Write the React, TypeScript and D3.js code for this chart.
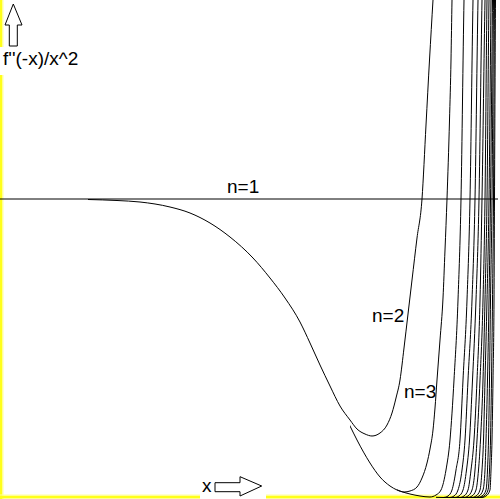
import React from 'react';
import * as d3 from 'd3';

// ---- data (x in abstract units 0..10, y in abstract units; n=1 is the level y=0) ----
const n1X = [0, 9.96];
const n1Y = [0, 0];

// shared descending branch followed by all curves n>=2
const envX = [1.76, 2.34, 2.8, 3.4, 3.8, 4.2, 4.6, 5.06, 5.4, 5.7, 6.0, 6.2, 6.4, 6.6, 6.8, 7.0, 7.14, 7.4, 7.6, 7.8, 8.0, 8.2, 8.4, 8.6];
const envY = [-0.005, -0.015, -0.03, -0.08, -0.14, -0.24, -0.38, -0.59, -0.79, -0.99, -1.23, -1.44, -1.66, -1.87, -2.07, -2.27, -2.41, -2.64, -2.78, -2.87, -2.92, -2.95, -2.97, -2.98];

const n2X = [7.0, 7.14, 7.3, 7.44, 7.6, 7.74, 7.84, 7.92, 8.0, 8.08, 8.16, 8.24, 8.34, 8.44, 8.52, 8.59, 8.66, 8.72];
const n2Y = [-2.21, -2.3, -2.35, -2.37, -2.34, -2.26, -2.14, -1.99, -1.81, -1.49, -1.15, -0.81, -0.39, 0, 0.74, 1.39, 1.99, 2.49];

const n3X = [7.94, 8.08, 8.2, 8.34, 8.44, 8.54, 8.6, 8.66, 8.7, 8.74, 8.8, 8.86, 8.9, 8.94, 8.99, 9.02, 9.04, 9.06];
const n3Y = [-2.91, -2.93, -2.92, -2.88, -2.79, -2.64, -2.5, -2.31, -2.09, -1.81, -1.41, -0.99, -0.51, 0, 0.79, 1.39, 1.99, 2.49];

const n4X = [8.72, 8.82, 8.92, 9.0, 9.08, 9.16, 9.22, 9.28, 9.3];
const n4Y = [-2.96, -2.91, -2.71, -2.41, -1.81, -1.01, 0, 1.99, 2.49];

// higher orders: x read at these levels
const riseY = [-2.985, -2.97, -2.91, -2.71, -2.41, -1.81, -1.01, 0, 1.99, 2.49];
const n5X = [8.88, 8.96, 9.04, 9.12, 9.2, 9.26, 9.34, 9.4, 9.46, 9.48];
const n6X = [9.0, 9.08, 9.16, 9.24, 9.3, 9.36, 9.44, 9.5, 9.56, 9.58];
const n7X = [9.1, 9.18, 9.26, 9.33, 9.39, 9.45, 9.52, 9.58, 9.64, 9.66];
const n8X = [9.2, 9.28, 9.36, 9.42, 9.48, 9.54, 9.6, 9.64, 9.7, 9.72];
const n9X = [9.28, 9.36, 9.44, 9.5, 9.54, 9.6, 9.66, 9.7, 9.74, 9.76];
const n10X = [9.36, 9.44, 9.52, 9.57, 9.61, 9.66, 9.7, 9.74, 9.78, 9.8];
const n11X = [9.44, 9.52, 9.6, 9.64, 9.67, 9.7, 9.74, 9.78, 9.82, 9.83];
const n12X = [9.5, 9.58, 9.66, 9.7, 9.72, 9.75, 9.78, 9.81, 9.85, 9.86];
const n13X = [9.56, 9.64, 9.72, 9.75, 9.77, 9.79, 9.81, 9.84, 9.87, 9.88];
const n14X = [9.6, 9.68, 9.76, 9.79, 9.81, 9.83, 9.85, 9.87, 9.89, 9.9];
const n15X = [9.64, 9.72, 9.8, 9.82, 9.84, 9.86, 9.88, 9.89, 9.91, 9.92];

const curveLabels = ['n=1', 'n=2', 'n=3'];
const yAxisLabel = "f''(-x)/x^2";
const xAxisLabel = 'x';

const W = 500;
const H = 499;
const xScale = d3.scaleLinear().domain([0, 10]).range([0, 500]);
const yScale = d3.scaleLinear().domain([-3, 2]).range([499, -1]);

type P = [number, number];
const zip = (xs: number[], ys: number[]): P[] => xs.map((x, i) => [x, ys[i]] as P);

const withEnvelope = (tail: P[]): P[] => {
  const start = tail[0][0];
  const env = zip(envX, envY).filter((p) => p[0] < start);
  return env.concat(tail);
};

const tails: P[][] = [
  zip(n2X, n2Y),
  zip(n3X, n3Y),
  zip(n4X, n4Y),
  ...[n5X, n6X, n7X, n8X, n9X, n10X, n11X, n12X, n13X, n14X, n15X].map((xs) => zip(xs, riseY)),
];
const series: P[][] = tails.map(withEnvelope);

const line = d3
  .line<P>()
  .x((d) => xScale(d[0]))
  .y((d) => yScale(d[1]))
  .curve(d3.curveMonotoneX);

const font = "'Liberation Sans', Arial, sans-serif";

export default function App() {
  return (
    <svg
      width={W}
      height={H}
      style={{ position: 'absolute', left: 0, top: 0, display: 'block', background: '#fff' }}
    >
      <rect x={0} y={0} width={W} height={H} fill="#fff" />
      {/* yellow frame */}
      <rect x={0} y={0} width={2.5} height={H} fill="#ffff1a" />
      <rect x={2.5} y={0} width={1} height={H} fill="#ffffa0" />
      <rect x={0} y={495.5} width={W} height={3} fill="#ffff1a" />
      <rect x={0} y={494.5} width={W} height={1} fill="#ffffa0" />

      <defs>
        {series.map((s, i) => {
          // each curve draws only from where the previous one leaves the shared branch
          const from = i === 0 ? 0 : xScale(tails[i - 1][0][0]);
          return (
            <clipPath id={`clip${i}`} key={i}>
              <rect x={from} y={0} width={W - from} height={H} />
            </clipPath>
          );
        })}
      </defs>
      <path d={line(zip(n1X, n1Y)) || ''} fill="none" stroke="#000" strokeWidth={1} />
      {series.map((s, i) => (
        <path
          key={i}
          d={line(s) || ''}
          fill="none"
          stroke="#000"
          strokeWidth={1}
          clipPath={`url(#clip${i})`}
        />
      ))}

      {/* y axis label with arrow */}
      <rect x={0} y={47} width={80} height={28} fill="#fff" />
      <path d="M13.3,4 L22,25 L17.3,25 L17.3,46 L9.3,46 L9.3,25 L5,25 Z" fill="#fff" stroke="#000" strokeWidth={1} />
      <text x={3} y={65} fontFamily={font} fontSize={19} fill="#000">{yAxisLabel}</text>

      {/* x axis label with arrow */}
      <rect x={200} y={474} width={66} height={25} fill="#fff" />
      <text x={202} y={492} fontFamily={font} fontSize={19} fill="#000">{xAxisLabel}</text>
      <path d="M215,482.7 L240,482.7 L240,476.7 L261.7,486 L240,496 L240,491.7 L215,491.7 Z" fill="#fff" stroke="#000" strokeWidth={1} />

      {/* curve labels */}
      <text x={227} y={193} fontFamily={font} fontSize={19} fill="#000">{curveLabels[0]}</text>
      <text x={372} y={322} fontFamily={font} fontSize={19} fill="#000">{curveLabels[1]}</text>
      <text x={404} y={398} fontFamily={font} fontSize={19} fill="#000">{curveLabels[2]}</text>
    </svg>
  );
}
